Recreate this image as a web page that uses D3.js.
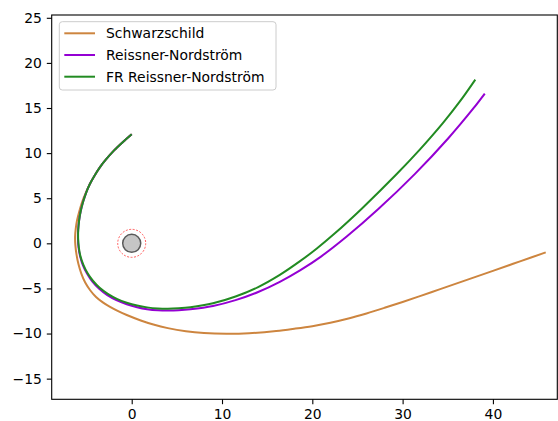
<!DOCTYPE html>
<html>
<head>
<meta charset="utf-8">
<script src="https://cdn.jsdelivr.net/npm/d3@7"></script>
<style>
  body { margin: 0; background: #ffffff; }
  #chart-container { width: 558px; height: 421px; }
  text { font-family: "DejaVu Sans", sans-serif; }
</style>
</head>
<body>
<div id="chart-container"></div>
<script>
// Orbit data, [x, y] pairs
const schwarzschild = [
  [0, 12.08], [-1.0, 11.2], [-1.95, 10.3], [-2.8, 9.35], [-3.51, 8.45], [-4.12, 7.5],
  [-4.65, 6.55], [-5.1, 5.55], [-5.5, 4.55], [-5.8, 3.55], [-6.05, 2.55], [-6.2, 1.6],
  [-6.27, 0.7], [-6.24, -0.2], [-6.12, -1.2], [-5.9, -2.3], [-5.58, -3.35], [-5.15, -4.35],
  [-4.6, -5.2], [-3.95, -5.95], [-3.2, -6.55], [-2.4, -7.05], [-1.5, -7.52], [-0.55, -7.95],
  [1.0, -8.55], [2.4, -9.0], [4, -9.4], [6, -9.75], [8, -9.95], [10.5, -10.03], [13, -9.97],
  [16, -9.72], [18, -9.47], [20, -9.18], [22, -8.8], [24, -8.33], [26, -7.77], [28, -7.15],
  [30, -6.5], [32, -5.82], [34, -5.13], [36, -4.44], [40, -3.05], [43, -2.0], [45.85, -1.0]
];

const reissnerNordstrom = [
  [0, 12.08], [-1.0, 11.2], [-1.95, 10.3], [-2.8, 9.35], [-3.51, 8.45], [-4.12, 7.5],
  [-4.62, 6.6], [-5.05, 5.6], [-5.38, 4.6], [-5.65, 3.55], [-5.83, 2.5], [-5.93, 1.5],
  [-5.95, 0.5], [-5.88, -0.5], [-5.7, -1.5], [-5.4, -2.45], [-4.95, -3.35], [-4.35, -4.25],
  [-3.6, -5.05], [-2.7, -5.75], [-1.7, -6.3], [-0.55, -6.75], [0.6, -7.08], [1.7, -7.3],
  [2.9, -7.43], [4, -7.46], [5.2, -7.43], [6.5, -7.32], [9, -6.95], [11.5, -6.3], [14, -5.4],
  [16.4, -4.27], [18.64, -3.0], [21, -1.44], [23.81, 0.75], [27.31, 3.8], [31.37, 7.7],
  [35.06, 11.65], [37.83, 14.95], [39.1, 16.6]
];

const frReissnerNordstrom = [
  [0, 12.08], [-1.0, 11.2], [-1.95, 10.3], [-2.8, 9.35], [-3.51, 8.45], [-4.12, 7.5],
  [-4.62, 6.6], [-5.05, 5.6], [-5.38, 4.6], [-5.65, 3.55], [-5.83, 2.5], [-5.92, 1.5],
  [-5.93, 0.5], [-5.85, -0.5], [-5.66, -1.5], [-5.35, -2.4], [-4.9, -3.3], [-4.3, -4.15],
  [-3.55, -4.93], [-2.65, -5.6], [-1.65, -6.15], [-0.55, -6.58], [0.6, -6.9], [1.7, -7.1],
  [2.9, -7.22], [4, -7.25], [5.2, -7.2], [6.5, -7.08], [9, -6.65], [11.5, -5.9], [14, -4.85],
  [16.4, -3.5], [18.64, -1.98], [20.5, -0.57], [22.5, 1.11], [25.5, 3.87], [29.35, 7.68],
  [31.85, 10.33], [34.5, 13.38], [36.3, 15.67], [38.05, 18.15]
];

const seriesNames = ["Schwarzschild", "Reissner-Nordström", "FR Reissner-Nordström"];
const seriesColors = ["#cd853f", "#9400d3", "#228b22"];
const xTicks = [0, 10, 20, 30, 40];
const yTicks = [-15, -10, -5, 0, 5, 10, 15, 20, 25];

// Black hole and dashed horizon radius
const bodyRadius = 1.0;
const horizonRadius = 1.55;

function drawChart() {
  d3.select("#chart-container").selectAll("*").remove();

  const width = 558;
  const height = 421;
  const left = 51.7, right = 557.3, top = 15, bottom = 399.3;

  // equal aspect, matching the plot
  const x = d3.scaleLinear().domain([-8.86, 47.13]).range([left, right]);
  const y = d3.scaleLinear().domain([-17.29, 25.31]).range([bottom, top]);

  const svg = d3.select("#chart-container")
    .append("svg")
    .attr("width", width)
    .attr("height", height);

  // Clip the curves to the plot box
  svg.append("clipPath")
    .attr("id", "plot-clip")
    .append("rect")
    .attr("x", left)
    .attr("y", top)
    .attr("width", right - left)
    .attr("height", bottom - top);

  const line = d3.line()
    .x(d => x(d[0]))
    .y(d => y(d[1]))
    .curve(d3.curveCatmullRom.alpha(0.5));

  const plot = svg.append("g").attr("clip-path", "url(#plot-clip)");

  [schwarzschild, reissnerNordstrom, frReissnerNordstrom].forEach((data, i) => {
    plot.append("path")
      .datum(data)
      .attr("fill", "none")
      .attr("stroke", seriesColors[i])
      .attr("stroke-width", 2)
      .attr("stroke-linejoin", "round")
      .attr("d", line);
  });

  // black hole
  const k = x(1) - x(0);
  plot.append("circle")
    .attr("cx", x(0))
    .attr("cy", y(0))
    .attr("r", horizonRadius * k)
    .attr("fill", "none")
    .attr("stroke", "#ff0000")
    .attr("stroke-opacity", 0.7)
    .attr("stroke-width", 0.9)
    .attr("stroke-dasharray", "2,1.5");

  plot.append("circle")
    .attr("cx", x(0))
    .attr("cy", y(0))
    .attr("r", bodyRadius * k)
    .attr("fill", "#c6c6c6")
    .attr("stroke", "#5a5a5a")
    .attr("stroke-width", 1.5);

  // Axes
  svg.append("g")
    .attr("transform", `translate(0,${bottom})`)
    .style("font-size", "13.9px")
    .call(d3.axisBottom(x)
      .tickValues(xTicks)
      .tickFormat(d3.format("d"))
      .tickSize(4.9)
      .tickPadding(4.9))
    .call(g => g.select(".domain").remove());

  svg.append("g")
    .attr("transform", `translate(${left},0)`)
    .style("font-size", "13.9px")
    .call(d3.axisLeft(y)
      .tickValues(yTicks)
      .tickFormat(d3.format("d"))
      .tickSize(4.9)
      .tickPadding(4.9))
    .call(g => g.select(".domain").remove());

  svg.selectAll(".tick text").attr("fill", "#000000").style("font-family", "DejaVu Sans");
  svg.selectAll(".tick line").attr("stroke", "#000000").attr("stroke-width", 1.1);

  // Frame
  svg.append("rect")
    .attr("x", left)
    .attr("y", top)
    .attr("width", right - left)
    .attr("height", bottom - top)
    .attr("fill", "none")
    .attr("stroke", "#000000")
    .attr("stroke-width", 1.1);

  // Legend
  const legend = svg.append("g").attr("class", "legend");
  legend.append("rect")
    .attr("x", 59.3)
    .attr("y", 21.7)
    .attr("width", 216.7)
    .attr("height", 68.3)
    .attr("rx", 3)
    .attr("fill", "#ffffff")
    .attr("fill-opacity", 0.8)
    .attr("stroke", "#cccccc")
    .attr("stroke-width", 1);

  seriesNames.forEach((name, i) => {
    const ly = 33.3 + i * 21.7;
    legend.append("line")
      .attr("x1", 64.3)
      .attr("x2", 95)
      .attr("y1", ly)
      .attr("y2", ly)
      .attr("stroke", seriesColors[i])
      .attr("stroke-width", 2);
    legend.append("text")
      .attr("x", 106)
      .attr("y", ly)
      .attr("dy", "0.36em")
      .attr("font-size", "13.9px")
      .attr("fill", "#000000")
      .text(name);
  });
}

drawChart();
</script>
</body>
</html>
